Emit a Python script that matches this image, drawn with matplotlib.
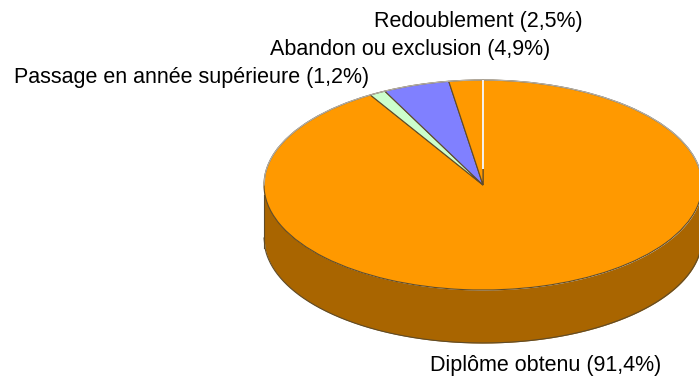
import numpy as np
import matplotlib
matplotlib.use("Agg")
import matplotlib.pyplot as plt

plt.rcParams['font.family'] = ['Liberation Sans', 'DejaVu Sans']

labels = ['Diplôme obtenu', 'Passage en année supérieure', 'Abandon ou exclusion', 'Redoublement']
values = [91.4, 1.2, 4.9, 2.5]
value_text = ['91,4', '1,2', '4,9', '2,5']
colors = ['#FF9900', '#CCFFCC', '#8080FF', '#FF9900']
side_color = '#A96500'
edge_color = '#5F4B28'

W, H = 699, 377
cx, cy = 483, 185
rx, ry = 219, 105
depth = 53 / ry

fig = plt.figure(figsize=(W / 100, H / 100), dpi=100)
ax = fig.add_axes([0, 0, 1, 1])

# side wall of the disc, only the front half shows
xs = np.linspace(-1, 1, 400)
front = -np.sqrt(1 - xs ** 2)
ax.fill_between(xs, front, front - depth, color=side_color, lw=0, zorder=1)
ax.plot(xs, front - depth, color=edge_color, lw=0.8, zorder=2)
ax.plot([-1, -1], [-0.1, -0.1 - depth], color=edge_color, lw=0.8, zorder=2)

wedges, _ = ax.pie(values, colors=colors, startangle=90, counterclock=False,
                   wedgeprops={'edgecolor': edge_color, 'linewidth': 0.8, 'zorder': 3})

# back rim is much lighter than the front one
ax.plot(xs, -front, color='#B5AFA5', lw=0.9, zorder=4)

# thin white slit at the top where the first and last slices meet
ax.plot([0, 0], [0.15, 1.0], color='white', lw=1.3, zorder=5, solid_capstyle='butt')

ax.set_aspect('auto')
ax.set_xlim(-cx / rx, (W - cx) / rx)
ax.set_ylim((cy - H) / ry, cy / ry)
ax.axis('off')

label_pos = [(430, 365), (14, 77), (270, 49), (374, 21)]
for name, val, (px, py) in zip(labels, value_text, label_pos):
    fig.text(px / W, 1 - py / H, f'{name} ({val}%)', fontsize=15.5, color='black',
             ha='left', va='center')

fig.savefig('out.png', dpi=100)
